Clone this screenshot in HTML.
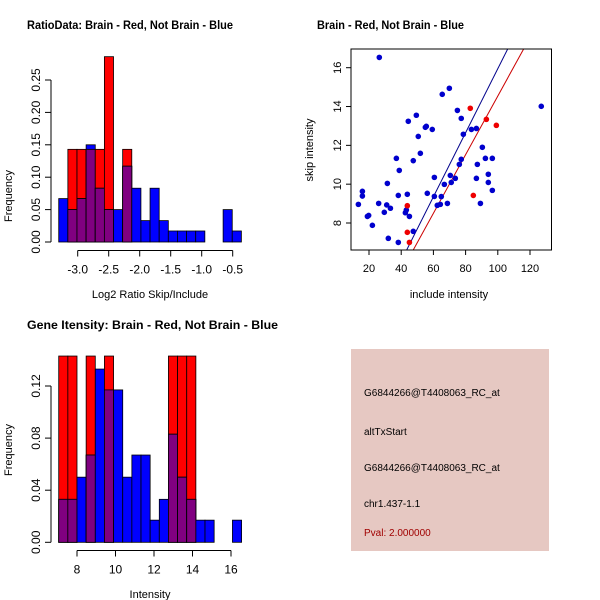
<!DOCTYPE html>
<html><head><meta charset="utf-8"><style>
body{margin:0;background:#fff}
svg{display:block;font-family:"Liberation Sans",sans-serif}
</style></head><body>
<svg id="c" width="600" height="600" viewBox="0 0 600 600"></svg>
<script>
// ---- Data ----
const h1Start = -3.306, h1Width = 0.1473;
const h1Blue = [0.067,0.05,0.067,0.15,0.083,0.05,0.05,0.117,0.083,0.033,0.083,0.033,0.017,0.017,0.017,0.017,0,0,0.05,0.017];
const h1Red  = [0,0.143,0.143,0.143,0.143,0.286,0,0.143,0,0,0,0,0,0,0,0,0,0,0,0];
const h1XTicks = [-3.0,-2.5,-2.0,-1.5,-1.0,-0.5];
const h1XTickLabels = ["-3.0","-2.5","-2.0","-1.5","-1.0","-0.5"];
const h1YTicks = [0,0.05,0.10,0.15,0.20,0.25];
const h1YTickLabels = ["0.00","0.05","0.10","0.15","0.20","0.25"];

const scBlueX = [13.4,15.9,15.9,19.0,19.8,22.1,26.4,26.0,29.5,31.0,31.4,32.0,33.3,37.0,38.2,38.2,38.8,42.6,43.2,43.8,44.4,45.1,47.5,47.5,49.4,50.6,51.9,55.0,55.6,56.2,59.3,60.6,60.6,62.4,64.3,64.9,65.5,66.8,68.7,69.9,70.5,71.1,73.6,74.9,76.1,77.3,77.3,78.6,83.6,86.7,86.7,87.3,89.2,90.4,92.3,94.1,94.1,96.6,96.6,127.0];
const scBlueY = [8.96,9.63,9.39,8.34,8.39,7.88,16.53,9.01,8.55,8.93,10.04,7.21,8.76,11.33,9.42,7.0,10.71,8.53,8.67,9.48,13.24,8.34,7.57,11.21,13.55,12.46,11.59,12.93,12.98,9.53,12.82,10.35,9.37,8.91,8.96,9.36,14.63,9.99,9.01,14.94,10.45,10.09,10.30,13.80,11.02,11.28,13.39,12.57,12.82,12.87,10.30,11.02,9.01,11.90,11.33,10.51,10.09,9.68,11.33,14.01];
const scRedX = [43.8,45.1,43.8,82.9,84.8,92.9,99.1];
const scRedY = [7.52,7.0,8.89,13.91,9.42,13.34,13.03];
const fitBlue = [-0.55,0.165]; // intercept, slope
const fitRed = [-0.56,0.151];
const scXTicks = [20,40,60,80,100,120];
const scYTicks = [8,10,12,14,16];

const h3Start = 7.05, h3Width = 0.475;
const h3Blue = [0.033,0.033,0.05,0.067,0.133,0.117,0.117,0.05,0.067,0.067,0.017,0.033,0.083,0.05,0.033,0.017,0.017,0,0,0.017];
const h3Red  = [0.143,0.143,0,0.143,0,0.143,0,0,0,0,0,0,0.143,0.143,0.143,0,0,0,0,0];
const h3XTicks = [8,10,12,14,16];
const h3YTicks = [0,0.04,0.08,0.12];
const h3YTickLabels = ["0.00","0.04","0.08","0.12"];

const NS="http://www.w3.org/2000/svg";
const svg=document.getElementById('c');
function mk(tag,attrs,parent,text){const e=document.createElementNS(NS,tag);for(const k in attrs)e.setAttribute(k,attrs[k]);if(text!==undefined)e.textContent=text;(parent||svg).appendChild(e);return e;}
function lin(d0,d1,p0,p1){return v=>p0+(v-d0)*(p1-p0)/(d1-d0);}

function hist(cfg){
  const g=mk('g',{});
  
  
  const X=cfg.X,Y=cfg.Y;
  const n=cfg.blue.length;
  for(let i=0;i<n;i++){
    const x0=X(cfg.start+i*cfg.width),x1=X(cfg.start+(i+1)*cfg.width);
    const b=cfg.blue[i],r=cfg.red[i];
    if(r>0){const e=mk('rect',{x:x0,y:Y(r),width:x1-x0,height:Y(0)-Y(r),fill:'#ff0000',stroke:'#000','stroke-width':0.8},g);
      
      }
    if(b>0){const e=mk('rect',{x:x0,y:Y(b),width:x1-x0,height:Y(0)-Y(b),fill:'#0000ff',stroke:'#000','stroke-width':0.8},g);
      
      }
    const m=Math.min(b,r);
    if(m>0){const e=mk('rect',{x:x0,y:Y(m),width:x1-x0,height:Y(0)-Y(m),fill:'#800080',stroke:'#000','stroke-width':0.8},g);
      
      }
  }
  // x axis
  const xa=mk('g',{},g);
  
  
  const t=cfg.xt;
  mk('line',{x1:X(t[0]),x2:X(t[t.length-1]),y1:cfg.xAxisY,y2:cfg.xAxisY,stroke:'#000'},xa);
  t.forEach((v,i)=>{mk('line',{x1:X(v),x2:X(v),y1:cfg.xAxisY,y2:cfg.xAxisY+6,stroke:'#000'},xa);
    mk('text',{x:X(v),y:cfg.xAxisY+23,'text-anchor':'middle','font-size':12},xa,cfg.xl[i]);});
  const ya=mk('g',{},g);
  
  
  const yt=cfg.yt;
  mk('line',{x1:cfg.yAxisX,x2:cfg.yAxisX,y1:Y(yt[0]),y2:Y(yt[yt.length-1]),stroke:'#000'},ya);
  yt.forEach((v,i)=>{mk('line',{x1:cfg.yAxisX,x2:cfg.yAxisX-6,y1:Y(v),y2:Y(v),stroke:'#000'},ya);
    mk('text',{x:0,y:0,transform:`translate(${cfg.yAxisX-11},${Y(v)}) rotate(-90)`,'text-anchor':'middle','font-size':12},ya,cfg.yl[i]);});
}

// Plot 1
hist({name:'ratio-histogram',X:lin(-3,-0.5,77.7,232.7),Y:lin(0,0.25,242,80),start:h1Start,width:h1Width,blue:h1Blue,red:h1Red,
  xt:h1XTicks,xl:h1XTickLabels,yt:h1YTicks,yl:h1YTickLabels,xAxisY:250.5,yAxisX:51});
// Plot 3
hist({name:'intensity-histogram',X:lin(8,16,77,231),Y:lin(0,0.12,542.3,386),start:h3Start,width:h3Width,blue:h3Blue,red:h3Red,
  xt:h3XTicks,xl:h3XTicks.map(String),yt:h3YTicks,yl:h3YTickLabels,xAxisY:550.5,yAxisX:51});

// Plot 2 scatter
const SX=lin(20,120,369,530), SY=lin(8,16,223,67.7);
const sg=mk('g',{});


const box={x0:351,x1:551.5,y0:49,y1:250};
mk('defs',{},sg).innerHTML='<clipPath id="clipb"><rect x="351" y="49" width="200.5" height="201"/></clipPath>';
function fit(f,col,name){const xa=SX.inv?0:0;
  const xL=20+(box.x0-369)/1.61, xR=20+(box.x1-369)/1.61;
  const e=mk('line',{x1:SX(xL),y1:SY(f[0]+f[1]*xL),x2:SX(xR),y2:SY(f[0]+f[1]*xR),stroke:col,'stroke-width':1,'clip-path':'url(#clipb)'},sg);
  
  }
fit(fitBlue,'#00008b','blue-fit-line');
fit(fitRed,'#cc0000','red-fit-line');
scBlueX.forEach((x,i)=>{const e=mk('circle',{cx:SX(x),cy:SY(scBlueY[i]),r:2.8,fill:'#0000cd'},sg);
  
  });
scRedX.forEach((x,i)=>{const e=mk('circle',{cx:SX(x),cy:SY(scRedY[i]),r:2.8,fill:'#ee0000'},sg);
  
  });
mk('rect',{x:box.x0,y:box.y0,width:box.x1-box.x0,height:box.y1-box.y0,fill:'none',stroke:'#000'},sg);
scXTicks.forEach(v=>{mk('line',{x1:SX(v),x2:SX(v),y1:box.y1,y2:box.y1+5,stroke:'#000'},sg);
  mk('text',{x:SX(v),y:272,'text-anchor':'middle','font-size':11},sg,String(v));});
scYTicks.forEach(v=>{mk('line',{x1:box.x0,x2:box.x0-5,y1:SY(v),y2:SY(v),stroke:'#000'},sg);
  mk('text',{x:0,y:0,transform:`translate(${box.x0-10},${SY(v)}) rotate(-90)`,'text-anchor':'middle','font-size':11},sg,String(v));});
</script>
<svg width="600" height="600" style="position:absolute;left:0;top:0" font-family="Liberation Sans, sans-serif">
<text x="27" y="29" font-size="12" font-weight="bold" textLength="206" lengthAdjust="spacingAndGlyphs">RatioData: Brain - Red, Not Brain - Blue</text>
<text x="317" y="29" font-size="12" font-weight="bold" textLength="147" lengthAdjust="spacingAndGlyphs">Brain - Red, Not Brain - Blue</text>
<text x="27" y="329" font-size="12" font-weight="bold" textLength="251" lengthAdjust="spacingAndGlyphs">Gene Itensity: Brain - Red, Not Brain - Blue</text>
<text x="150" y="298" font-size="11" text-anchor="middle">Log2 Ratio Skip/Include</text>
<text transform="translate(12,196) rotate(-90)" font-size="11" text-anchor="middle">Frequency</text>
<text x="449" y="298" font-size="11" text-anchor="middle">include intensity</text>
<text transform="translate(313,150) rotate(-90)" font-size="11" text-anchor="middle">skip intensity</text>
<text x="150" y="598" font-size="11" text-anchor="middle">Intensity</text>
<text transform="translate(12,450) rotate(-90)" font-size="11" text-anchor="middle">Frequency</text>
<g>
<rect x="351" y="349" width="198" height="202" fill="#e6c8c2"/>
<text x="364" y="396" font-size="10" fill="#000">G6844266@T4408063_RC_at</text>
<text x="364" y="435" font-size="10" fill="#000">altTxStart</text>
<text x="364" y="471" font-size="10" fill="#000">G6844266@T4408063_RC_at</text>
<text x="364" y="507" font-size="10" fill="#000">chr1.437-1.1</text>
<text x="364" y="536" font-size="10" fill="#a00000">Pval: 2.000000</text>
</g>
</svg>
</body></html>
